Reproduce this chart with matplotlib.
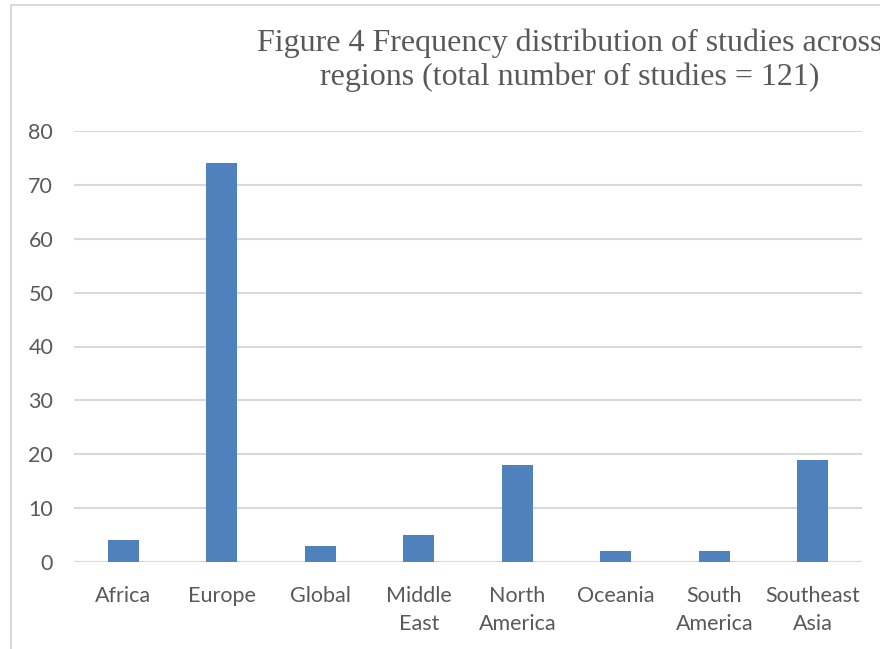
import matplotlib.pyplot as plt
from matplotlib.patches import Rectangle

regions = ["Africa", "Europe", "Global", "Middle\nEast", "North\nAmerica",
           "Oceania", "South\nAmerica", "Southeast\nAsia"]
studies = [4, 74, 3, 5, 18, 2, 2, 19]
yticks = [0, 10, 20, 30, 40, 50, 60, 70, 80]

text_gray = "#595959"
grid_gray = "#d9d9d9"
bar_blue = "#4f81bd"

fig = plt.figure(figsize=(8.8, 6.49), dpi=100)
ax = fig.add_axes([74 / 880, 1 - 562 / 649, 788 / 880, 431 / 649])

x = range(len(regions))
ax.bar(x, studies, width=0.31, color=bar_blue, zorder=3)

ax.set_xlim(-0.5, len(regions) - 0.5)
ax.set_ylim(0, 80)
ax.set_yticks(yticks)
ax.set_xticks(list(x))
ax.set_xticklabels(regions, linespacing=1.55)
ax.yaxis.grid(True, color=grid_gray, linewidth=1.5, zorder=0)
ax.axhline(0, color=grid_gray, linewidth=1.5, zorder=1)
for s in ax.spines.values():
    s.set_visible(False)
ax.tick_params(axis="both", length=0, labelsize=15.5, labelcolor=text_gray,
               labelfontfamily="Lato")
ax.tick_params(axis="y", pad=15)
ax.tick_params(axis="x", pad=17)
for lbl in ax.get_xticklabels():
    lbl.set_verticalalignment("top")

fig.text(570 / 880, 1 - 29 / 649,
         "Figure 4 Frequency distribution of studies across\n"
         "regions (total number of studies = 121)",
         ha="center", va="top", fontsize=23, family="Liberation Serif",
         color=text_gray, linespacing=1.2)

# chart frame running off the right and bottom edges
fig.patches.append(Rectangle((11 / 880, -0.05), 1.0, 1 - 5 / 649 + 0.05,
                             transform=fig.transFigure, fill=False,
                             edgecolor=grid_gray, linewidth=1.5))

fig.savefig("out.png", dpi=100)
